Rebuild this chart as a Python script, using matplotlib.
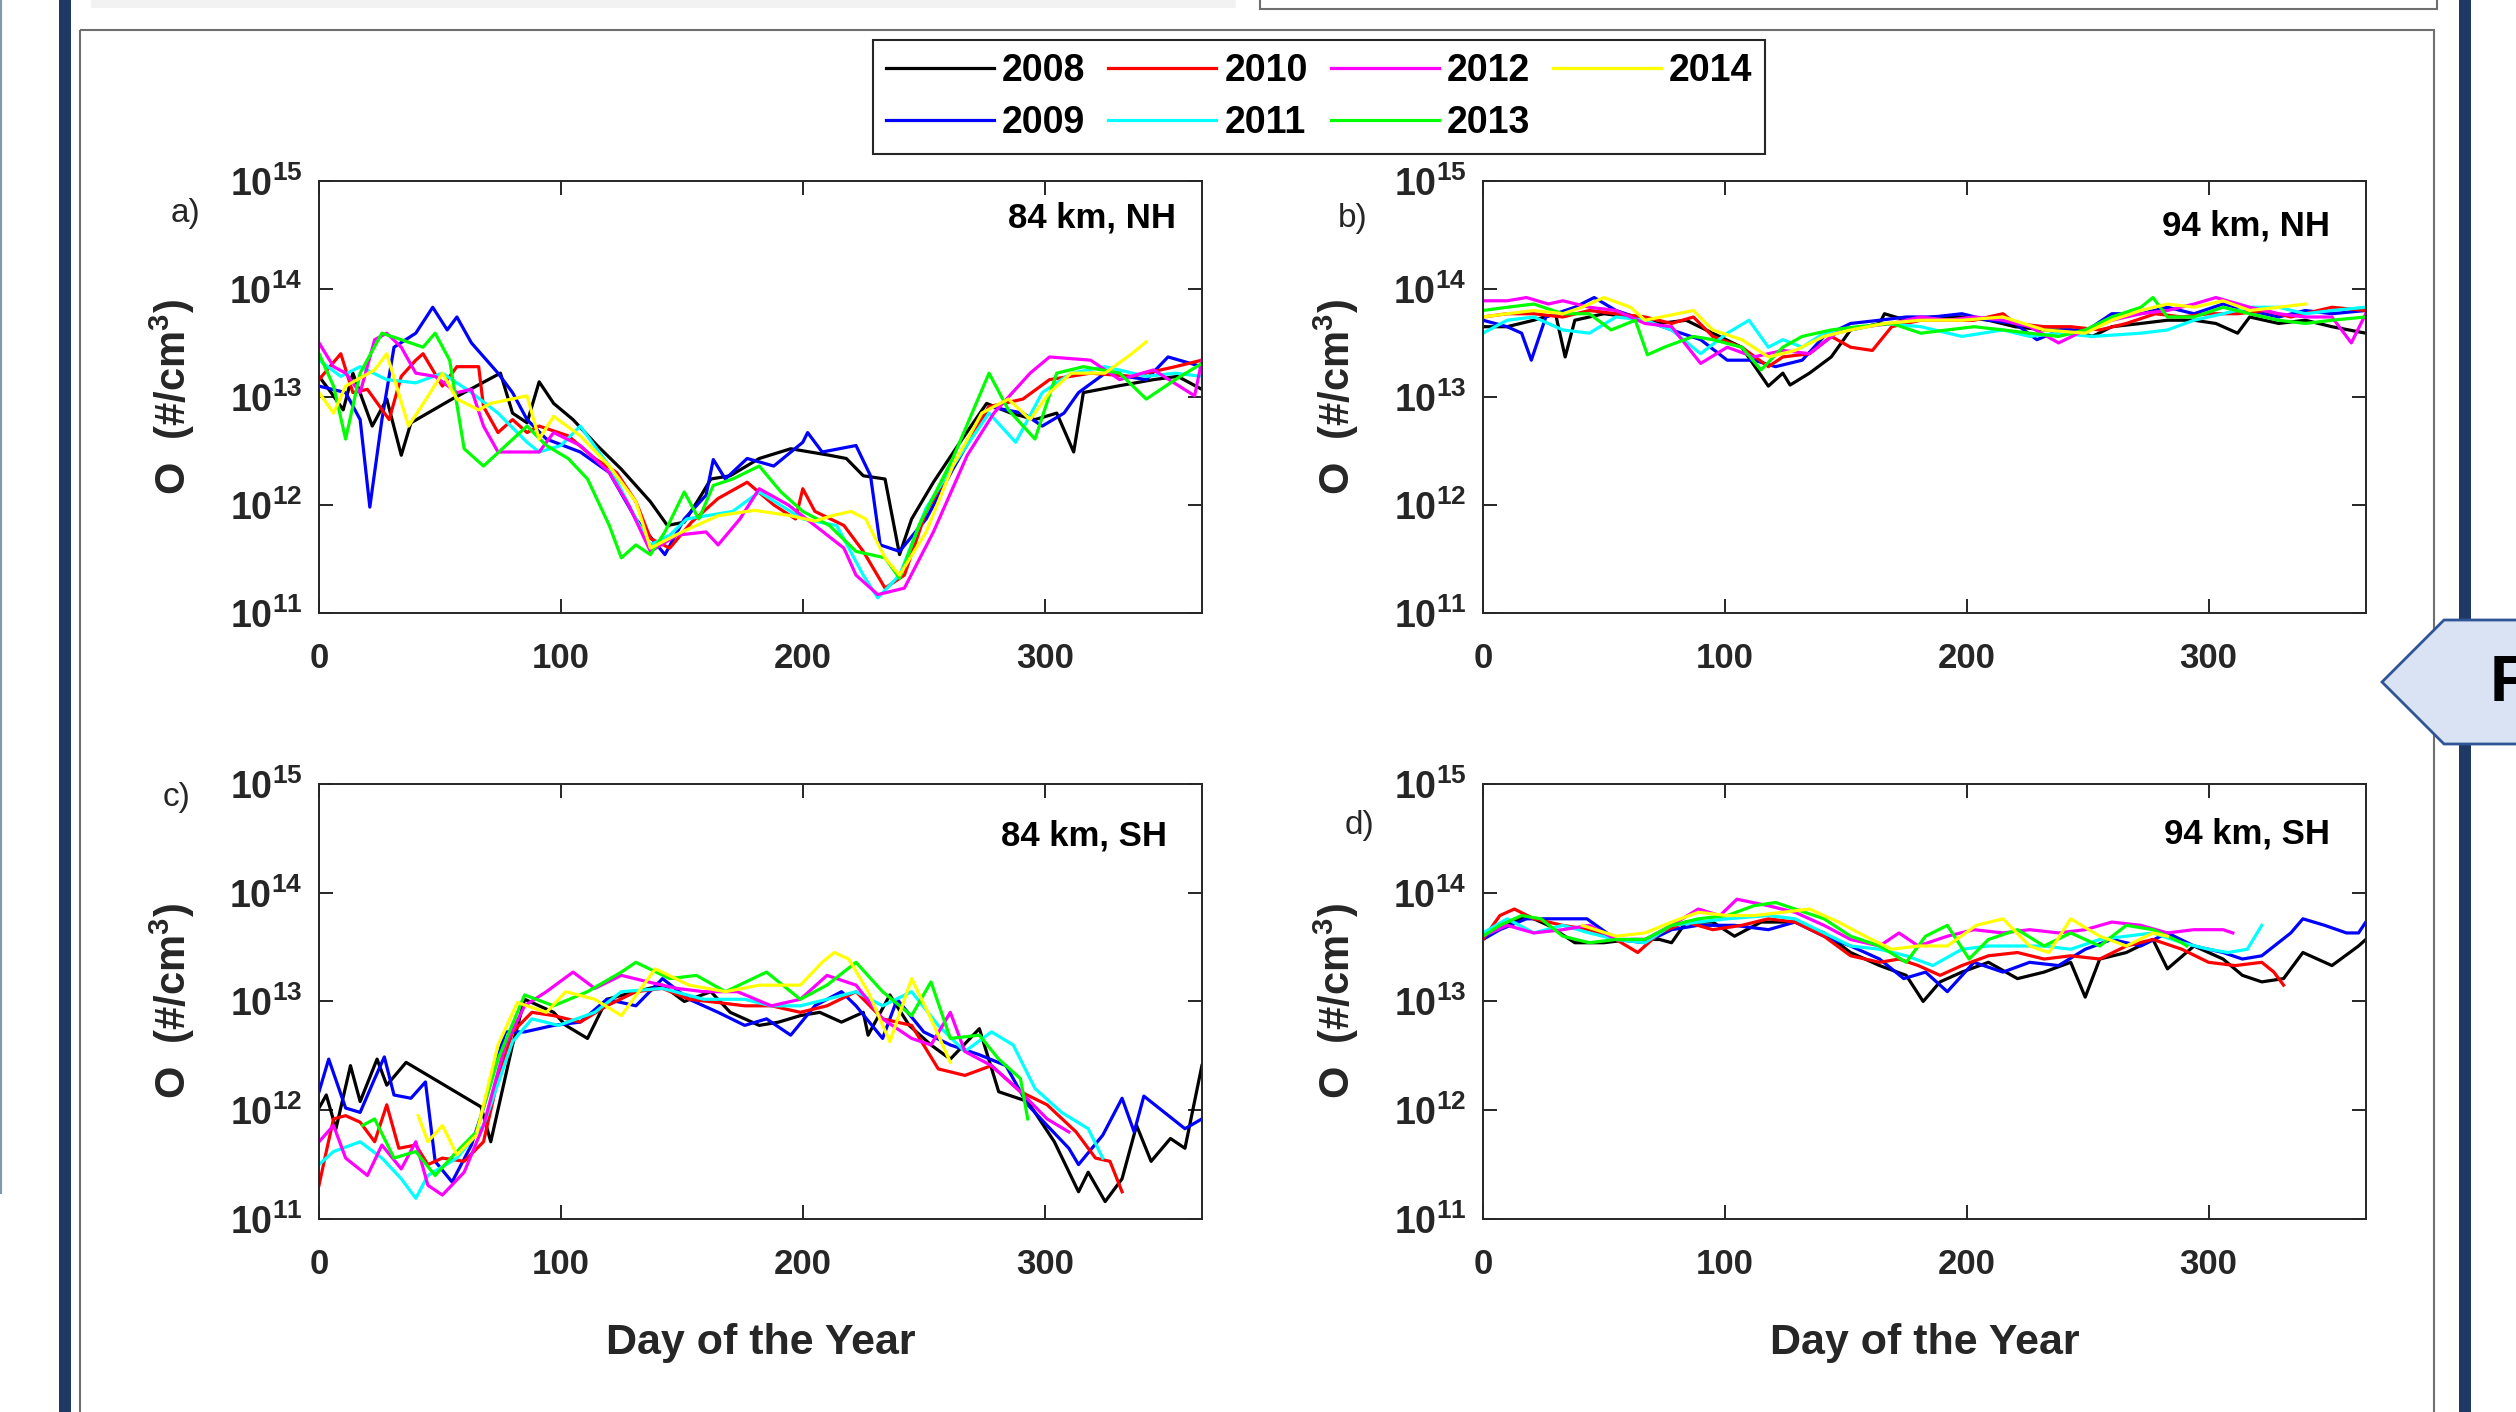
import numpy as np
import matplotlib.pyplot as plt
from matplotlib.patches import Polygon, Rectangle
from matplotlib.lines import Line2D
from matplotlib.ticker import FixedLocator, NullLocator, FuncFormatter

# ---- data: day of year and log10 of O density (#/cm^3) ----
years = ['2008', '2009', '2010', '2011', '2012', '2013', '2014']
colors = ['#000000', '#0000ff', '#ff0000', '#00ffff', '#ff00ff', '#00ff00', '#ffff00']

# a) 84 km, NH
nh84_2008_day = [0, 5, 10, 14, 22, 28, 34, 38, 55, 75, 80, 86, 91, 97, 105, 115, 125, 137, 144, 151, 158, 162, 170, 182, 195, 211, 218, 225, 234, 240, 245, 254, 265, 276, 286, 296, 305, 312, 316, 330, 345, 355, 365]
nh84_2008_exp = [13.19, 13.04, 12.88, 13.22, 12.73, 12.98, 12.46, 12.76, 12.98, 13.22, 12.85, 12.76, 13.14, 12.94, 12.79, 12.55, 12.33, 12.03, 11.81, 11.84, 12.09, 12.24, 12.27, 12.43, 12.52, 12.46, 12.43, 12.27, 12.24, 11.54, 11.87, 12.21, 12.58, 12.94, 12.85, 12.79, 12.85, 12.49, 13.04, 13.10, 13.16, 13.19, 13.07]
nh84_2009_day = [0, 11, 17, 21, 26, 31, 40, 47, 53, 57, 63, 74, 80, 86, 94, 108, 120, 131, 143, 151, 160, 163, 168, 177, 188, 200, 202, 208, 222, 228, 232, 240, 251, 262, 277, 291, 299, 308, 314, 325, 342, 351, 365]
nh84_2009_exp = [13.10, 13.04, 12.79, 11.98, 12.79, 13.46, 13.59, 13.83, 13.62, 13.74, 13.50, 13.22, 13.04, 12.79, 12.61, 12.49, 12.30, 11.87, 11.54, 11.87, 12.09, 12.42, 12.24, 12.43, 12.36, 12.58, 12.67, 12.49, 12.55, 12.27, 11.63, 11.57, 11.87, 12.33, 12.91, 12.85, 12.73, 12.85, 13.04, 13.22, 13.16, 13.37, 13.28]
nh84_2010_day = [0, 9, 14, 20, 29, 34, 40, 43, 51, 57, 66, 68, 74, 80, 86, 91, 103, 114, 123, 131, 137, 145, 154, 165, 177, 188, 197, 200, 205, 217, 225, 234, 242, 251, 262, 277, 291, 302, 319, 336, 354, 365]
nh84_2010_exp = [13.16, 13.40, 13.04, 13.07, 12.79, 13.19, 13.34, 13.40, 13.10, 13.28, 13.28, 12.91, 12.67, 12.79, 12.67, 12.73, 12.64, 12.43, 12.30, 12.03, 11.69, 11.60, 11.84, 12.06, 12.21, 12.00, 11.87, 12.15, 11.94, 11.81, 11.57, 11.23, 11.35, 11.94, 12.36, 12.91, 12.98, 13.16, 13.22, 13.19, 13.28, 13.34]
nh84_2011_day = [0, 9, 17, 28, 40, 51, 63, 74, 86, 91, 100, 108, 120, 131, 137, 145, 152, 171, 182, 200, 214, 225, 231, 240, 251, 262, 277, 288, 299, 311, 325, 342, 354, 365]
nh84_2011_exp = [13.34, 13.19, 13.28, 13.16, 13.13, 13.22, 13.04, 12.85, 12.58, 12.49, 12.55, 12.73, 12.36, 11.87, 11.63, 11.72, 11.87, 11.94, 12.12, 11.87, 11.81, 11.35, 11.14, 11.35, 11.97, 12.36, 12.85, 12.58, 13.04, 13.22, 13.28, 13.19, 13.22, 13.19]
nh84_2012_day = [0, 6, 11, 17, 23, 28, 34, 40, 48, 57, 63, 68, 74, 91, 97, 108, 120, 128, 137, 148, 160, 165, 174, 182, 194, 205, 217, 222, 231, 242, 254, 268, 279, 294, 302, 319, 331, 345, 362, 365]
nh84_2012_exp = [13.50, 13.28, 13.22, 13.04, 13.53, 13.59, 13.46, 13.22, 13.19, 13.04, 13.07, 12.73, 12.49, 12.49, 12.67, 12.55, 12.30, 12.00, 11.57, 11.72, 11.75, 11.63, 11.87, 12.15, 12.00, 11.81, 11.60, 11.35, 11.17, 11.23, 11.75, 12.46, 12.85, 13.22, 13.37, 13.34, 13.16, 13.25, 13.01, 13.34]
nh84_2013_day = [0, 6, 11, 17, 26, 34, 43, 48, 54, 60, 68, 86, 94, 103, 111, 120, 125, 131, 137, 143, 151, 157, 163, 171, 182, 191, 200, 211, 222, 234, 240, 248, 262, 277, 285, 296, 305, 316, 331, 342, 354, 365]
nh84_2013_exp = [13.40, 13.10, 12.61, 13.22, 13.59, 13.53, 13.46, 13.59, 13.34, 12.52, 12.36, 12.73, 12.55, 12.43, 12.24, 11.81, 11.51, 11.63, 11.54, 11.75, 12.12, 11.87, 12.18, 12.24, 12.36, 12.12, 11.94, 11.81, 11.57, 11.51, 11.32, 11.81, 12.43, 13.22, 12.88, 12.61, 13.22, 13.28, 13.22, 12.98, 13.16, 13.31]
nh84_2014_day = [0, 6, 11, 23, 28, 37, 46, 51, 57, 66, 71, 86, 91, 97, 108, 120, 131, 137, 150, 165, 180, 195, 205, 212, 220, 226, 234, 240, 251, 262, 274, 285, 294, 302, 311, 325, 336, 342]
nh84_2014_exp = [13.04, 12.85, 13.10, 13.25, 13.40, 12.73, 13.04, 13.22, 12.98, 12.88, 12.94, 13.01, 12.61, 12.82, 12.64, 12.36, 12.03, 11.60, 11.75, 11.90, 11.95, 11.90, 11.85, 11.90, 11.94, 11.87, 11.51, 11.35, 11.75, 12.36, 12.85, 12.98, 12.79, 13.04, 13.22, 13.22, 13.40, 13.51]

# b) 94 km, NH
nh94_2008_day = [0, 10, 21, 30, 34, 38, 50, 61, 73, 84, 95, 107, 118, 124, 127, 135, 144, 152, 164, 166, 175, 186, 198, 209, 220, 232, 243, 252, 260, 272, 283, 294, 303, 312, 317, 329, 340, 351, 365]
nh94_2008_exp = [13.65, 13.65, 13.71, 13.77, 13.37, 13.71, 13.77, 13.74, 13.68, 13.71, 13.59, 13.46, 13.10, 13.22, 13.11, 13.22, 13.37, 13.62, 13.68, 13.77, 13.71, 13.74, 13.74, 13.71, 13.65, 13.62, 13.62, 13.56, 13.65, 13.68, 13.71, 13.71, 13.68, 13.59, 13.74, 13.68, 13.71, 13.65, 13.59]
nh94_2009_day = [0, 10, 16, 20, 26, 38, 46, 55, 67, 78, 90, 101, 112, 121, 132, 141, 152, 164, 175, 186, 198, 209, 220, 229, 239, 250, 260, 272, 283, 294, 306, 317, 329, 340, 351, 365]
nh94_2009_exp = [13.71, 13.65, 13.59, 13.34, 13.74, 13.83, 13.92, 13.80, 13.71, 13.62, 13.53, 13.34, 13.34, 13.28, 13.34, 13.56, 13.68, 13.71, 13.74, 13.74, 13.77, 13.71, 13.68, 13.53, 13.62, 13.62, 13.77, 13.77, 13.83, 13.77, 13.86, 13.80, 13.74, 13.80, 13.77, 13.80]
nh94_2010_day = [0, 10, 21, 33, 44, 55, 67, 78, 87, 95, 107, 118, 124, 135, 144, 152, 161, 169, 181, 192, 203, 215, 220, 232, 243, 255, 266, 278, 289, 300, 312, 323, 334, 351, 365]
nh94_2010_exp = [13.74, 13.77, 13.77, 13.74, 13.80, 13.77, 13.74, 13.68, 13.74, 13.56, 13.46, 13.28, 13.37, 13.40, 13.56, 13.46, 13.43, 13.65, 13.71, 13.71, 13.71, 13.77, 13.68, 13.65, 13.65, 13.62, 13.68, 13.77, 13.74, 13.77, 13.77, 13.80, 13.74, 13.83, 13.80]
nh94_2011_day = [0, 10, 21, 33, 44, 55, 67, 78, 90, 101, 110, 118, 124, 132, 141, 152, 166, 181, 198, 215, 226, 238, 252, 272, 283, 294, 306, 317, 329, 340, 351, 365]
nh94_2011_exp = [13.59, 13.71, 13.74, 13.62, 13.59, 13.74, 13.71, 13.62, 13.40, 13.59, 13.71, 13.46, 13.53, 13.46, 13.59, 13.62, 13.68, 13.65, 13.56, 13.62, 13.56, 13.59, 13.56, 13.59, 13.62, 13.71, 13.77, 13.83, 13.83, 13.77, 13.80, 13.83]
nh94_2012_day = [0, 10, 18, 27, 33, 44, 55, 67, 78, 90, 101, 112, 124, 135, 146, 158, 169, 181, 192, 203, 215, 226, 238, 249, 260, 272, 283, 294, 303, 317, 329, 340, 351, 359, 365]
nh94_2012_exp = [13.89, 13.89, 13.92, 13.86, 13.89, 13.83, 13.80, 13.68, 13.65, 13.31, 13.46, 13.37, 13.43, 13.40, 13.59, 13.65, 13.68, 13.74, 13.71, 13.74, 13.71, 13.65, 13.50, 13.62, 13.71, 13.77, 13.80, 13.86, 13.92, 13.83, 13.77, 13.74, 13.74, 13.50, 13.77]
nh94_2013_day = [0, 10, 21, 33, 44, 53, 63, 68, 75, 87, 95, 107, 115, 124, 132, 144, 155, 169, 181, 192, 203, 215, 226, 238, 249, 260, 272, 277, 283, 294, 306, 317, 329, 340, 351, 365]
nh94_2013_exp = [13.80, 13.83, 13.86, 13.77, 13.77, 13.62, 13.71, 13.39, 13.46, 13.56, 13.53, 13.46, 13.25, 13.46, 13.56, 13.62, 13.65, 13.68, 13.59, 13.62, 13.65, 13.62, 13.59, 13.56, 13.62, 13.74, 13.83, 13.92, 13.74, 13.74, 13.83, 13.77, 13.71, 13.68, 13.71, 13.74]
nh94_2014_day = [0, 10, 21, 33, 41, 50, 61, 67, 87, 95, 107, 118, 129, 141, 152, 166, 181, 198, 215, 232, 249, 260, 272, 283, 294, 306, 317, 329, 340]
nh94_2014_exp = [13.74, 13.77, 13.80, 13.77, 13.83, 13.92, 13.83, 13.71, 13.80, 13.62, 13.53, 13.37, 13.43, 13.56, 13.62, 13.68, 13.71, 13.71, 13.74, 13.62, 13.59, 13.71, 13.80, 13.86, 13.83, 13.89, 13.80, 13.83, 13.86]

# c) 84 km, SH
sh84_2008_day = [0, 3, 7, 13, 17, 24, 28, 36, 67, 71, 80, 85, 97, 102, 111, 119, 131, 142, 151, 162, 170, 182, 190, 199, 207, 216, 225, 227, 236, 244, 253, 261, 273, 281, 293, 304, 314, 318, 325, 332, 338, 344, 352, 358, 365]
sh84_2008_exp = [12.02, 12.14, 11.83, 12.41, 12.08, 12.47, 12.23, 12.44, 12.03, 11.71, 12.60, 13.02, 12.90, 12.78, 12.66, 13.02, 13.09, 13.15, 13.00, 13.09, 12.90, 12.78, 12.81, 12.87, 12.90, 12.81, 12.90, 12.69, 13.06, 12.78, 12.60, 12.47, 12.75, 12.17, 12.08, 11.71, 11.25, 11.43, 11.16, 11.37, 11.86, 11.53, 11.74, 11.65, 12.41]
sh84_2009_day = [0, 4, 11, 17, 23, 27, 31, 38, 44, 48, 55, 63, 67, 77, 85, 97, 108, 119, 131, 142, 153, 165, 176, 185, 195, 205, 216, 222, 233, 239, 250, 261, 273, 284, 293, 301, 310, 314, 324, 332, 337, 341, 358, 365]
sh84_2009_exp = [12.17, 12.47, 12.02, 11.98, 12.29, 12.49, 12.14, 12.11, 12.26, 11.53, 11.34, 11.68, 11.95, 12.72, 12.72, 12.78, 12.81, 13.02, 12.96, 13.21, 13.02, 12.90, 12.78, 12.84, 12.69, 12.96, 13.09, 12.96, 12.66, 13.02, 12.72, 12.60, 12.51, 12.41, 12.05, 11.86, 11.65, 11.50, 11.77, 12.11, 11.80, 12.13, 11.83, 11.92]
sh84_2010_day = [0, 3, 6, 11, 17, 23, 28, 33, 40, 45, 51, 60, 68, 74, 80, 88, 97, 108, 119, 131, 142, 153, 165, 176, 187, 199, 210, 222, 233, 245, 256, 267, 278, 290, 301, 313, 321, 327, 332]
sh84_2010_exp = [11.31, 11.62, 11.92, 11.95, 11.89, 11.71, 12.05, 11.65, 11.68, 11.50, 11.56, 11.53, 11.71, 12.29, 12.72, 12.90, 12.87, 12.81, 12.96, 13.09, 13.12, 13.02, 12.99, 12.96, 12.96, 12.90, 12.96, 13.09, 12.84, 12.78, 12.38, 12.32, 12.41, 12.17, 12.05, 11.80, 11.56, 11.53, 11.25]
sh84_2011_day = [0, 6, 17, 26, 34, 40, 45, 57, 68, 80, 88, 99, 114, 125, 142, 159, 176, 187, 199, 210, 222, 233, 245, 256, 267, 278, 287, 296, 307, 318, 324]
sh84_2011_exp = [11.50, 11.62, 11.71, 11.56, 11.37, 11.19, 11.40, 11.56, 11.86, 12.63, 12.84, 12.78, 12.90, 13.09, 13.12, 13.02, 13.02, 12.96, 12.96, 13.02, 13.09, 12.96, 13.09, 12.78, 12.54, 12.72, 12.60, 12.20, 11.98, 11.83, 11.56]
sh84_2012_day = [0, 6, 11, 20, 26, 34, 40, 45, 51, 60, 68, 77, 85, 94, 105, 114, 125, 136, 148, 159, 173, 187, 199, 210, 222, 233, 245, 253, 261, 267, 278, 290, 301, 310]
sh84_2012_exp = [11.71, 11.86, 11.56, 11.40, 11.68, 11.46, 11.71, 11.31, 11.22, 11.43, 11.86, 12.60, 12.96, 13.09, 13.27, 13.12, 13.24, 13.18, 13.12, 13.09, 13.09, 12.96, 13.02, 13.24, 13.15, 12.84, 12.66, 12.60, 12.90, 12.54, 12.41, 12.17, 11.92, 11.80]
sh84_2013_day = [18, 23, 31, 40, 48, 57, 65, 74, 85, 97, 111, 125, 131, 145, 156, 168, 185, 199, 210, 222, 233, 245, 253, 261, 273, 281, 290, 293]
sh84_2013_exp = [11.86, 11.92, 11.56, 11.62, 11.40, 11.62, 11.80, 12.47, 13.06, 12.96, 13.09, 13.27, 13.36, 13.21, 13.24, 13.09, 13.27, 13.02, 13.15, 13.36, 13.09, 12.87, 13.18, 12.66, 12.69, 12.47, 12.29, 11.92]
sh84_2014_day = [41, 45, 51, 57, 65, 74, 82, 94, 102, 114, 125, 139, 153, 168, 182, 199, 208, 213, 219, 227, 236, 245, 253, 261]
sh84_2014_exp = [11.95, 11.71, 11.86, 11.59, 11.77, 12.60, 12.99, 12.90, 13.09, 13.02, 12.87, 13.30, 13.15, 13.09, 13.15, 13.15, 13.36, 13.45, 13.39, 13.09, 12.63, 13.21, 12.84, 12.44]

# d) 94 km, SH
sh94_2008_day = [0, 10, 18, 27, 38, 50, 61, 73, 78, 84, 95, 104, 115, 129, 141, 152, 164, 175, 182, 189, 198, 209, 221, 232, 243, 249, 255, 266, 277, 283, 294, 306, 314, 322, 331, 339, 351, 362, 365]
sh94_2008_exp = [13.60, 13.70, 13.79, 13.70, 13.54, 13.54, 13.57, 13.57, 13.54, 13.73, 13.73, 13.60, 13.73, 13.73, 13.63, 13.45, 13.33, 13.24, 13.00, 13.18, 13.27, 13.36, 13.21, 13.27, 13.36, 13.04, 13.39, 13.45, 13.57, 13.30, 13.51, 13.39, 13.24, 13.18, 13.21, 13.45, 13.33, 13.51, 13.57]
sh94_2009_day = [0, 7, 18, 27, 33, 43, 55, 67, 78, 89, 104, 118, 129, 141, 152, 164, 174, 183, 192, 203, 215, 226, 238, 249, 260, 272, 283, 294, 306, 314, 322, 334, 339, 348, 357, 362, 365]
sh94_2009_exp = [13.57, 13.66, 13.76, 13.76, 13.76, 13.76, 13.57, 13.54, 13.66, 13.70, 13.70, 13.66, 13.73, 13.60, 13.51, 13.39, 13.21, 13.27, 13.09, 13.36, 13.27, 13.36, 13.33, 13.48, 13.57, 13.51, 13.63, 13.51, 13.45, 13.39, 13.42, 13.63, 13.76, 13.70, 13.63, 13.63, 13.73]
sh94_2010_day = [0, 7, 13, 21, 33, 44, 55, 64, 73, 84, 95, 107, 118, 129, 141, 152, 164, 172, 180, 189, 198, 209, 221, 232, 243, 255, 266, 277, 289, 300, 311, 322, 327, 331]
sh94_2010_exp = [13.57, 13.79, 13.85, 13.76, 13.70, 13.66, 13.57, 13.45, 13.63, 13.73, 13.66, 13.70, 13.76, 13.73, 13.60, 13.42, 13.36, 13.39, 13.33, 13.24, 13.33, 13.42, 13.45, 13.39, 13.42, 13.39, 13.51, 13.57, 13.48, 13.36, 13.33, 13.36, 13.27, 13.15]
sh94_2011_day = [0, 10, 21, 33, 44, 55, 67, 78, 89, 101, 118, 129, 141, 152, 164, 175, 186, 198, 209, 221, 232, 243, 255, 266, 277, 289, 300, 308, 316, 322]
sh94_2011_exp = [13.63, 13.76, 13.63, 13.70, 13.63, 13.57, 13.54, 13.70, 13.73, 13.76, 13.79, 13.76, 13.63, 13.51, 13.48, 13.42, 13.33, 13.48, 13.51, 13.51, 13.51, 13.48, 13.57, 13.60, 13.63, 13.54, 13.48, 13.45, 13.48, 13.70]
sh94_2012_day = [0, 10, 21, 33, 44, 55, 67, 78, 89, 98, 105, 118, 129, 141, 152, 164, 172, 180, 192, 203, 215, 226, 238, 249, 260, 272, 283, 294, 306, 310]
sh94_2012_exp = [13.60, 13.70, 13.63, 13.66, 13.70, 13.57, 13.57, 13.70, 13.85, 13.79, 13.94, 13.88, 13.82, 13.70, 13.57, 13.51, 13.63, 13.51, 13.60, 13.66, 13.63, 13.66, 13.63, 13.66, 13.73, 13.70, 13.63, 13.66, 13.66, 13.63]
sh94_2013_day = [0, 7, 16, 24, 33, 44, 55, 67, 78, 89, 101, 112, 121, 129, 141, 152, 164, 175, 183, 192, 201, 209, 221, 232, 243, 255, 266, 277, 289, 291]
sh94_2013_exp = [13.60, 13.70, 13.79, 13.76, 13.60, 13.54, 13.57, 13.57, 13.70, 13.76, 13.79, 13.88, 13.91, 13.85, 13.76, 13.60, 13.51, 13.36, 13.60, 13.70, 13.39, 13.57, 13.66, 13.51, 13.63, 13.51, 13.70, 13.66, 13.54, 13.51]
sh94_2014_day = [41, 55, 67, 78, 89, 101, 112, 124, 135, 147, 158, 169, 180, 192, 204, 215, 226, 234, 243, 255, 266, 277, 283]
sh94_2014_exp = [13.70, 13.60, 13.63, 13.73, 13.82, 13.79, 13.79, 13.82, 13.85, 13.73, 13.60, 13.48, 13.51, 13.51, 13.70, 13.76, 13.51, 13.45, 13.76, 13.60, 13.51, 13.63, 13.60]

panel_series = [
    [(nh84_2008_day, nh84_2008_exp), (nh84_2009_day, nh84_2009_exp), (nh84_2010_day, nh84_2010_exp),
     (nh84_2011_day, nh84_2011_exp), (nh84_2012_day, nh84_2012_exp), (nh84_2013_day, nh84_2013_exp),
     (nh84_2014_day, nh84_2014_exp)],
    [(nh94_2008_day, nh94_2008_exp), (nh94_2009_day, nh94_2009_exp), (nh94_2010_day, nh94_2010_exp),
     (nh94_2011_day, nh94_2011_exp), (nh94_2012_day, nh94_2012_exp), (nh94_2013_day, nh94_2013_exp),
     (nh94_2014_day, nh94_2014_exp)],
    [(sh84_2008_day, sh84_2008_exp), (sh84_2009_day, sh84_2009_exp), (sh84_2010_day, sh84_2010_exp),
     (sh84_2011_day, sh84_2011_exp), (sh84_2012_day, sh84_2012_exp), (sh84_2013_day, sh84_2013_exp),
     (sh84_2014_day, sh84_2014_exp)],
    [(sh94_2008_day, sh94_2008_exp), (sh94_2009_day, sh94_2009_exp), (sh94_2010_day, sh94_2010_exp),
     (sh94_2011_day, sh94_2011_exp), (sh94_2012_day, sh94_2012_exp), (sh94_2013_day, sh94_2013_exp),
     (sh94_2014_day, sh94_2014_exp)],
]
panel_titles = ['84 km, NH', '94 km, NH', '84 km, SH', '94 km, SH']
panel_letters = ['a)', 'b)', 'c)', 'd)']

# ---- fonts ----
plt.rcParams['font.family'] = ['Liberation Sans', 'DejaVu Sans']
plt.rcParams['font.weight'] = 'bold'
plt.rcParams['axes.labelweight'] = 'bold'
plt.rcParams['mathtext.fontset'] = 'custom'
plt.rcParams['mathtext.rm'] = 'Liberation Sans:bold'
plt.rcParams['mathtext.it'] = 'Liberation Sans:bold'
plt.rcParams['mathtext.bf'] = 'Liberation Sans:bold'

axis_col = '#262626'

fig = plt.figure(figsize=(25.16, 14.12), dpi=100)

# ---- poster decorations around the figure (pixel coordinates) ----
bg = fig.add_axes([0, 0, 1, 1], zorder=-1)
bg.set_xlim(0, 2516)
bg.set_ylim(1412, 0)
bg.axis('off')
bg.add_patch(Rectangle((91, -5), 1145, 13, facecolor='#f2f2f2', edgecolor='none'))
bg.add_patch(Rectangle((1260, -10), 1177, 19, facecolor='white', edgecolor='#6f6f6f', lw=1.5))
bg.add_patch(Rectangle((80, 30), 2354, 1500, facecolor='none', edgecolor='#6f6f6f', lw=1.5))
bg.add_patch(Rectangle((59, 0), 12, 1412, facecolor='#1f3864', edgecolor='none'))
bg.add_patch(Rectangle((2459, 0), 12, 1412, facecolor='#1f3864', edgecolor='none'))
bg.plot([1, 1], [0, 1193], color='#8497b0', lw=1.5)
bg.add_patch(Polygon([(2382, 682), (2444, 620), (2530, 620), (2530, 744), (2444, 744)],
                     closed=True, facecolor='#dae3f3', edgecolor='#2f5597', lw=2, zorder=5))
# the poster's next-section arrow letter, cut by the right edge as in the original
bg.text(2490, 684, 'F', fontsize=47, fontweight='bold', ha='left', va='center', zorder=6)

# ---- the four panels ----
ax_pos = [[0.1268, 0.5659, 0.3509, 0.3060],
          [0.5894, 0.5659, 0.3509, 0.3060],
          [0.1268, 0.1367, 0.3509, 0.3081],
          [0.5894, 0.1367, 0.3509, 0.3081]]
title_xy = [(0.971, 0.914), (0.960, 0.896), (0.960, 0.880), (0.959, 0.885)]
letter_xy = [(-0.151, 0.924), (-0.147, 0.912), (-0.161, 0.968), (-0.140, 0.904)]

for i in range(4):
    ax = fig.add_axes(ax_pos[i])
    for (day, ex), col, yr in zip(panel_series[i], colors, years):
        ax.plot(day, 10 ** np.array(ex), color=col, lw=2.3, label=yr)

    ax.set_yscale('log')
    ax.set_xlim(0, 365)
    ax.set_ylim(1e11, 1e15)
    ax.set_xticks([0, 100, 200, 300])
    ax.yaxis.set_major_locator(FixedLocator([1e11, 1e12, 1e13, 1e14, 1e15]))
    ax.yaxis.set_minor_locator(NullLocator())
    ax.yaxis.set_major_formatter(FuncFormatter(lambda v, p: r'$10^{%d}$' % round(np.log10(v))))
    ax.tick_params(direction='in', top=True, right=True, length=10, width=1.4,
                   labelsize=25, colors=axis_col)
    ax.tick_params(axis='x', pad=21)
    ax.tick_params(axis='y', pad=12, labelsize=27)
    for s in ax.spines.values():
        s.set_linewidth(1.4)
        s.set_color(axis_col)

    ax.set_ylabel(r'O  (#/cm$^3$)', fontsize=30, color=axis_col)
    ax.yaxis.set_label_coords(-0.138, 0.5)
    if i >= 2:
        ax.set_xlabel('Day of the Year', fontsize=31, color=axis_col)
        ax.xaxis.set_label_coords(0.5, -0.24)

    ax.text(title_xy[i][0], title_xy[i][1], panel_titles[i], transform=ax.transAxes,
            ha='right', va='center', fontsize=25, color='black')
    ax.text(letter_xy[i][0], letter_xy[i][1], panel_letters[i], transform=ax.transAxes,
            ha='center', va='center', fontsize=24, fontweight='normal', color=axis_col)

# ---- shared legend ----
handles = [Line2D([], [], color=c, lw=2.3) for c in colors]
leg = fig.legend(handles, years, ncol=4, loc='center', bbox_to_anchor=(0.5243, 0.9313),
                 fontsize=27, handlelength=2.88, handletextpad=0.21, columnspacing=0.61,
                 borderpad=0.35, labelspacing=0.42, fancybox=False, framealpha=1,
                 edgecolor=axis_col)
leg.get_frame().set_linewidth(1.5)

fig.savefig('out.png', dpi=100)
